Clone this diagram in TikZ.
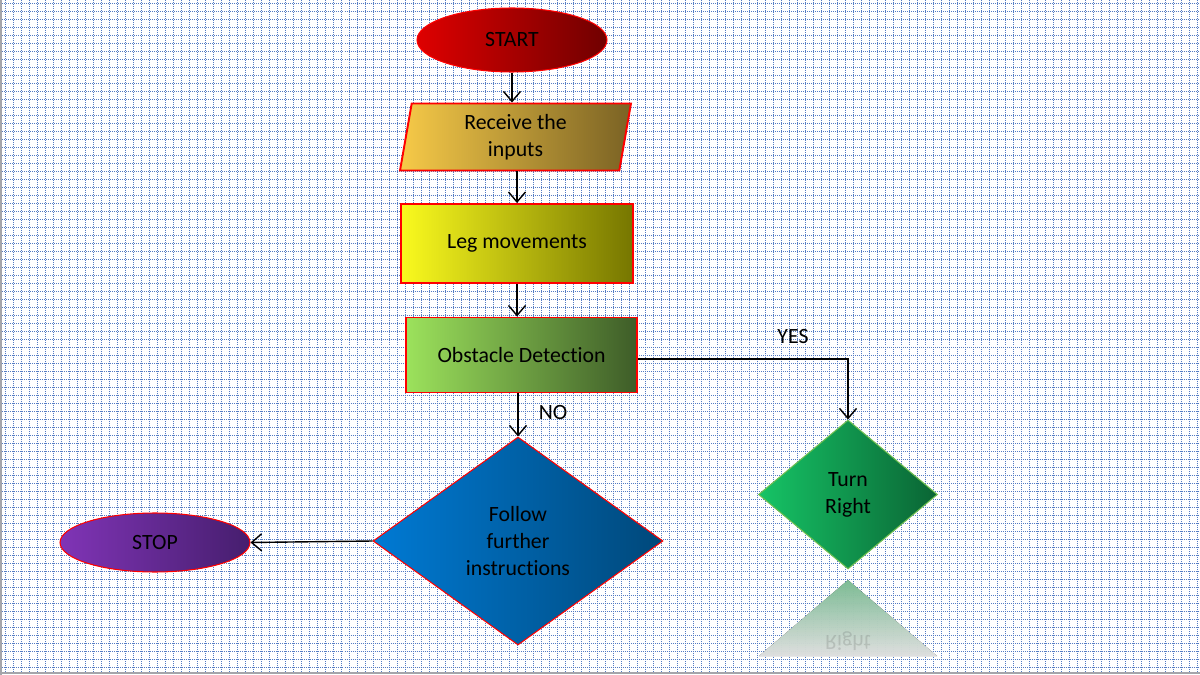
\documentclass[tikz,border=0pt]{standalone}
\usepackage{fontspec}
\setmainfont{Carlito}[Ligatures=NoCommon]
\usetikzlibrary{shapes.geometric,arrows.meta}
\definecolor{gridblue}{RGB}{84,124,196}
\definecolor{edgegray}{RGB}{165,165,170}
\definecolor{startL}{RGB}{222,0,0}
\definecolor{startR}{RGB}{112,0,0}
\definecolor{recvL}{RGB}{247,202,72}
\definecolor{recvR}{RGB}{122,98,36}
\definecolor{legL}{RGB}{250,250,30}
\definecolor{legR}{RGB}{118,118,0}
\definecolor{obstL}{RGB}{156,226,92}
\definecolor{obstR}{RGB}{62,92,40}
\definecolor{follL}{RGB}{0,122,212}
\definecolor{follR}{RGB}{0,72,122}
\definecolor{turnL}{RGB}{22,196,102}
\definecolor{turnR}{RGB}{10,100,52}
\definecolor{turnedge}{RGB}{110,190,80}
\definecolor{stopL}{RGB}{128,52,182}
\definecolor{stopR}{RGB}{70,30,110}
\definecolor{reflgreen}{RGB}{140,214,168}
\tikzset{
  chartfont/.style={font=\fontsize{12.4}{15.3}\selectfont,text=black,align=center},
  gridline/.style={gridblue,line width=0.42pt,dash pattern=on 0.5pt off 0.64pt},
  flowbox/.style={chartfont,rectangle,draw=red,line width=1.1pt,inner sep=2pt},
  terminal/.style={chartfont,ellipse,draw=red,line width=0.6pt,inner sep=1pt},
  decision/.style={chartfont,diamond,line width=0.6pt,inner sep=1pt},
  flowarrow/.style={black,line width=0.8pt,-{Straight Barb[length=2mm,width=3.4mm]}}
}
\begin{document}
\begin{tikzpicture}[x=0.02cm,y=-0.02cm]
  \useasboundingbox (0,0) rectangle (1200,675);
  % background grid
  \foreach \gx in {5,13,...,1197} \draw[gridline] (\gx,0) -- (\gx,671);
  \foreach \gy in {3,11,...,667} \draw[gridline] (0,\gy) -- (1200,\gy);
  \draw[edgegray,line width=1.2pt] (1,0) -- (1,675);
  \draw[edgegray,line width=1.2pt] (0,673) -- (1200,673);
  % nodes
  \node[terminal,minimum width=3.8cm,minimum height=1.28cm,left color=startL,right color=startR] (start) at (512,40) {START};
  \node[chartfont,trapezium,trapezium left angle=76.6,trapezium right angle=103.4,trapezium stretches body,draw=red,line width=1.1pt,minimum width=4.62cm,minimum height=1.34cm,inner sep=1pt,left color=recvL,right color=recvR] (recv) at (515.5,137) {Receive the\\inputs};
  \node[flowbox,minimum width=4.64cm,minimum height=1.58cm,left color=legL,right color=legR] (leg) at (517,243.5) {Leg movements};
  \node[flowbox,minimum width=4.62cm,minimum height=1.5cm,left color=obstL,right color=obstR] (obst) at (521.5,355) {Obstacle Detection};
  \node[decision,draw=red,minimum width=5.8cm,minimum height=4.16cm,left color=follL,right color=follR] (follow) at (518,541) {Follow\\further\\instructions};
  \node[decision,draw=turnedge,minimum width=3.58cm,minimum height=2.98cm,left color=turnL,right color=turnR] (turn) at (848,494.5) {Turn\\Right};
  \node[terminal,minimum width=3.8cm,minimum height=1.18cm,left color=stopL,right color=stopR] (stop) at (155,542.5) {STOP};
  % reflection of Turn Right
  \fill[top color=reflgreen,bottom color=white,fill opacity=0.85] (848,580) -- (937,656) -- (759,656) -- cycle;
  \node[chartfont,yscale=-1,text opacity=0.12] (turnrefl) at (848,641) {Right};
  % connectors
  \draw[flowarrow] (start) -- (start |- recv.north);
  \draw[flowarrow] (recv.south -| leg) -- (leg.north);
  \draw[flowarrow] (leg) -- (leg |- obst.north);
  \draw[flowarrow] (obst.south -| follow) -- (follow.north);
  \draw[flowarrow] ([yshift=-0.08cm]obst.east) -| (turn.north);
  \draw[flowarrow] (follow.west) -- (stop.east);
  % branch labels
  \node[chartfont] (nolab) at (553,413) {NO};
  \node[chartfont] (yeslab) at (793,337) {YES};
\end{tikzpicture}
\end{document}
